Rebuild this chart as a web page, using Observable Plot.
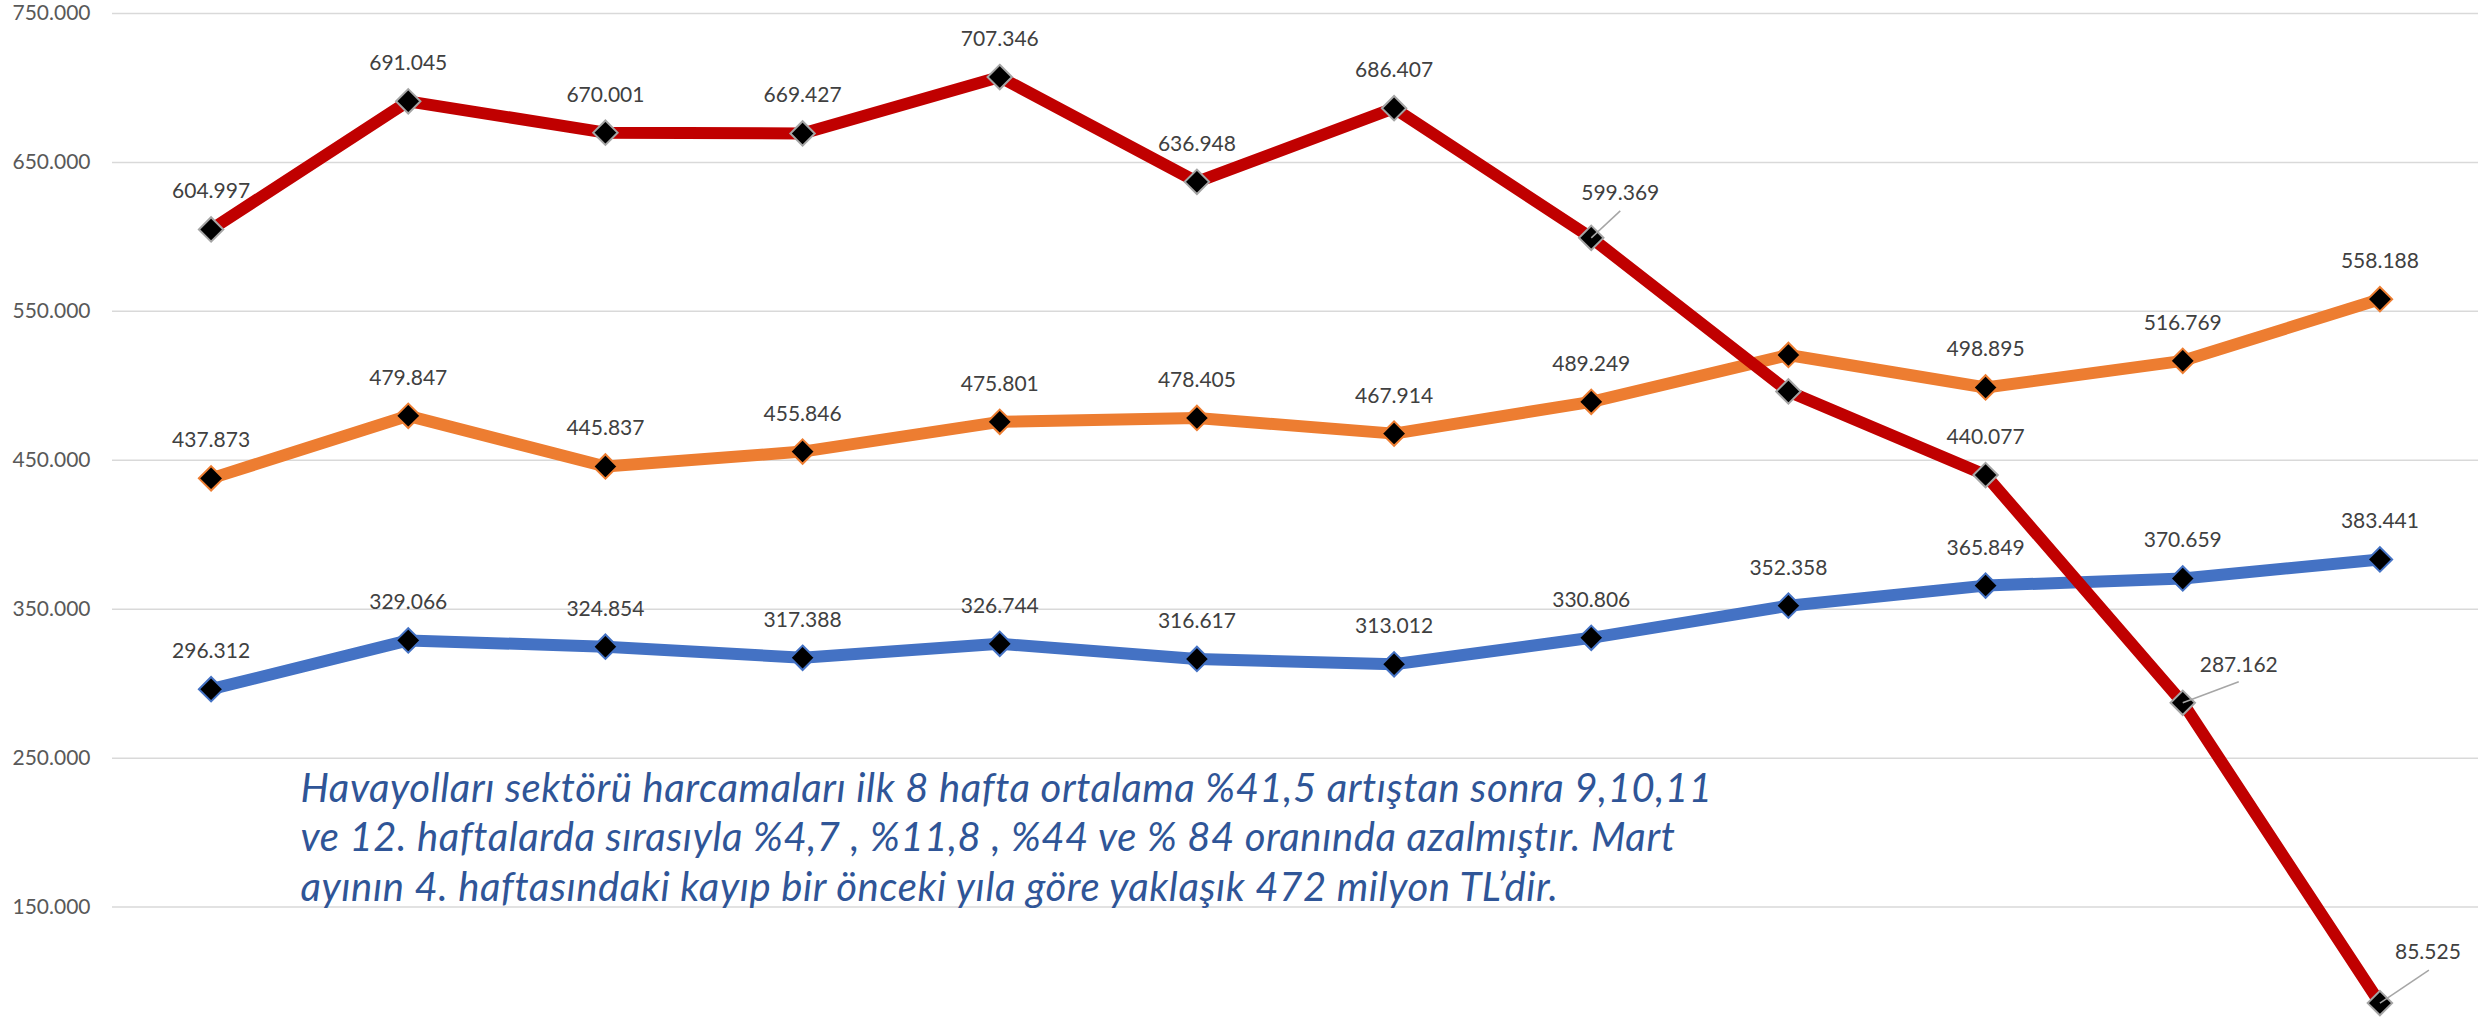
<!DOCTYPE html>
<html>
<head>
<meta charset="utf-8">
<script src="https://cdn.jsdelivr.net/npm/d3@7"></script>
<script src="https://cdn.jsdelivr.net/npm/@observablehq/plot@0.6"></script>
<style>
  html, body { margin: 0; padding: 0; background: #ffffff; }
  #chart svg { display: block; }
  #chart svg .annotation text { letter-spacing: 0.6px; }
</style>
</head>
<body>
<div id="chart"></div>
<script>
// ---- data ----
const weeks = [1, 2, 3, 4, 5, 6, 7, 8, 9, 10, 11, 12];
const seriesNames = ["2018", "2019", "2020"];
const values2018 = [296312, 329066, 324854, 317388, 326744, 316617, 313012, 330806, 352358, 365849, 370659, 383441];
const values2019 = [437873, 479847, 445837, 455846, 475801, 478405, 467914, 489249, 520700, 498895, 516769, 558188];
const values2020 = [604997, 691045, 670001, 669427, 707346, 636948, 686407, 599369, 496200, 440077, 287162, 85525];
const unlabeledWeeks = { "2018": [], "2019": [9], "2020": [9] };
const yTicks = [150000, 250000, 350000, 450000, 550000, 650000, 750000];
const annotationLines = [
  "Havayolları sektörü harcamaları ilk 8 hafta ortalama %41,5 artıştan sonra 9,10,11",
  "ve 12. haftalarda sırasıyla %4,7 , %11,8 , %44 ve % 84 oranında azalmıştır. Mart",
  "ayının 4. haftasındaki kayıp bir önceki yıla göre yaklaşık 472 milyon TL’dir."
];

// ---- styles / layout ----
const lineColor = { "2018": "#4472C4", "2019": "#ED7D31", "2020": "#C00000" };
const markerStroke = { "2018": "#4472C4", "2019": "#ED7D31", "2020": "#A5A5A5" };
// labels placed off to the side with a leader line (pixel offsets from the point)
const leaderLabels = [
  { series: "2020", week: 8,  tx: 29, ty: -38, lx: 29, ly: -27 },
  { series: "2020", week: 11, tx: 56, ty: -31, lx: 56, ly: -21 },
  { series: "2020", week: 12, tx: 48, ty: -44, lx: 49, ly: -33 }
];

const W = 2478, H = 1022;
const mL = 112, mR = 0, mT = 13, mB = 0;
const yMin = 72500, yMax = 750000;
const pxPerWeek = (W - mL - mR) / 12;
const pxPerUnit = (H - mT - mB) / (yMax - yMin);

const trLocale = d3.formatLocale({ decimal: ",", thousands: ".", grouping: [3], currency: ["", ""] });
const fmt = trLocale.format(",d");

const valuesBySeries = { "2018": values2018, "2019": values2019, "2020": values2020 };
const rows = [];
for (const s of seriesNames) {
  valuesBySeries[s].forEach((v, i) => rows.push({ series: s, week: weeks[i], value: v }));
}
const isLeader = (d) => leaderLabels.some((l) => l.series === d.series && l.week === d.week);
const normalLabels = rows.filter((d) => !unlabeledWeeks[d.series].includes(d.week) && !isLeader(d));
const leaderRows = leaderLabels.map((l) => {
  const d = rows.find((r) => r.series === l.series && r.week === l.week);
  return {
    ...d,
    tx: d.week + l.tx / pxPerWeek,
    ty: d.value - l.ty / pxPerUnit,
    lx: d.week + l.lx / pxPerWeek,
    ly: d.value - l.ly / pxPerUnit
  };
});

const seriesMarks = seriesNames.flatMap((s) => {
  const data = rows.filter((d) => d.series === s);
  return [
    Plot.line(data, { x: "week", y: "value", stroke: lineColor[s], strokeWidth: 12, strokeLinejoin: "round", strokeLinecap: "round" }),
    Plot.dot(data, { x: "week", y: "value", symbol: "diamond2", r: 11, fill: "black", stroke: markerStroke[s], strokeWidth: 2 })
  ];
});

const chart = Plot.plot({
  width: W,
  height: H,
  marginLeft: mL,
  marginRight: mR,
  marginTop: mT,
  marginBottom: mB,
  style: { fontFamily: "Lato, 'Open Sans', sans-serif", fontSize: "21px", background: "#ffffff", overflow: "visible" },
  x: { domain: [0.5, 12.5], axis: null },
  y: { domain: [yMin, yMax] },
  marks: [
    Plot.gridY(yTicks, { stroke: "#D9D9D9", strokeOpacity: 1, strokeWidth: 1.5 }),
    Plot.axisY(yTicks, { tickSize: 0, tickPadding: 22, tickFormat: fmt, fill: "#595959", fontSize: 21, label: null }),
    ...seriesMarks,
    Plot.link(leaderRows, { x1: "week", y1: "value", x2: "lx", y2: "ly", stroke: "#A6A6A6", strokeWidth: 1.5 }),
    Plot.text(normalLabels, { x: "week", y: "value", text: (d) => fmt(d.value), dy: -31, lineAnchor: "bottom", fill: "#404040", fontSize: 21 }),
    Plot.text(leaderRows, { x: "tx", y: "ty", text: (d) => fmt(d.value), lineAnchor: "bottom", fill: "#404040", fontSize: 21 }),
    Plot.text([annotationLines.join("\n")], {
      frameAnchor: "top-left", dx: 188, dy: 887, lineAnchor: "bottom", textAnchor: "start",
      fontSize: 40, fontStyle: "italic", fill: "#2F5597", lineHeight: 1.23,
      className: "annotation"
    })
  ]
});
document.getElementById("chart").appendChild(chart);
</script>
</body>
</html>
